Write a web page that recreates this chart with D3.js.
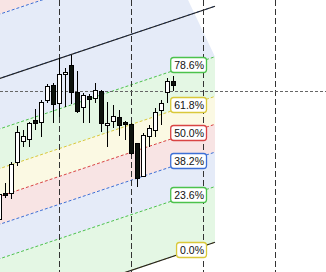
<!DOCTYPE html>
<html>
<head>
<meta charset="utf-8">
<style>
  body { margin: 0; background: #fff; }
  svg { display: block; }
  .label text { font: 10.5px "Liberation Sans", Arial, sans-serif; fill: #111; }
</style>
</head>
<body>
<svg id="chart" width="326" height="272"></svg>
<script src="https://cdn.jsdelivr.net/npm/d3@7"></script>
<script>
// candles, one per bar index
const opens  = [55.27, 57.93, 57.87, 60.93, 63.07, 63.27, 65.20, 64.97, 67.20, 68.67,
                66.87, 69.80, 70.70, 68.00, 66.47, 67.60, 67.37, 68.13, 64.63, 65.13,
                65.53, 65.00, 64.80, 62.87, 59.63, 63.53, 64.20, 66.13, 67.97, 69.07];
const highs  = [58.20, 58.93, 61.00, 64.60, 64.20, 65.03, 66.30, 67.20, 68.80, 68.90,
                71.37, 70.40, 71.70, 70.13, 67.90, 67.80, 68.87, 68.20, 67.03, 66.70,
                66.20, 65.10, 64.90, 62.90, 63.87, 64.70, 66.37, 67.20, 69.40, 69.63];
const lows   = [55.00, 57.37, 57.30, 60.60, 62.53, 62.53, 64.20, 63.53, 66.87, 64.93,
                65.53, 66.53, 66.80, 65.87, 64.87, 64.90, 66.87, 64.03, 62.53, 64.40,
                63.60, 63.20, 61.70, 58.47, 59.55, 62.53, 63.50, 64.70, 66.87, 68.13];
const closes = [57.77, 57.73, 60.80, 63.97, 63.60, 64.87, 64.93, 66.97, 68.60, 66.77,
                69.77, 70.00, 67.97, 66.13, 67.67, 67.27, 68.20, 64.93, 64.87, 65.60,
                64.77, 64.83, 61.90, 59.37, 63.70, 64.37, 66.03, 66.87, 69.07, 68.65];

// fibonacci channel
const channelStart = {i: 0, price: 45.73};
const channelEnd = {i: 36, price: 52.97};
const channelHeight = 23.61;
const channelLeft = -5;
const fibLevels = [0, 0.236, 0.382, 0.5, 0.618, 0.786, 1, 1.272, 1.618];
const fibLabels = ['0.0%', '23.6%', '38.2%', '50.0%', '61.8%', '78.6%', '', '', ''];
const fibColors = ['#d9c83a', '#4cc24c', '#3d6fd6', '#d94444', '#d9c83a', '#4cc24c', '#3d6fd6', '#3d6fd6', '#d94444'];
const fibFills  = ['#fbf9e3', '#e4f7e4', '#e5ebf8', '#f8e4e4', '#fbf9e3', '#e4f7e4', '#e5ebf8', '#e5ebf8', '#f8e4e4'];
const fillTopEnd = {i: 22.6, level: 1.618};

// grid
const gridIndex = [10, 22, 34, 46];
const gridPrice = [68.1];

const width = 326, height = 272;
const svg = d3.select('#chart');

const x = d3.scaleLinear().domain([0, 29]).range([-1, 173]);
const y = d3.scaleLinear().domain([50, 77.2]).range([height, 0]);

const crisp = v => Math.round(v) + 0.5;

function basePrice(i) {
  const s = (channelEnd.price - channelStart.price) / (channelEnd.i - channelStart.i);
  return channelStart.price + (i - channelStart.i) * s;
}
function levelPrice(i, level) {
  return basePrice(i) + level * channelHeight;
}
// right end of the filled area for a level
function fillRight(level) {
  const top = fibLevels[5];
  if (level <= top) return channelEnd.i;
  const t = (level - top) / (fillTopEnd.level - top);
  return channelEnd.i + t * (fillTopEnd.i - channelEnd.i);
}

// band fills
const bands = d3.range(fibLevels.length - 1).map(j => ({
  lo: fibLevels[j], hi: fibLevels[j + 1], fill: fibFills[j + 1]
}));

svg.append('g')
  .attr('class', 'bands')
  .selectAll('path')
  .data(bands)
  .join('path')
    .attr('fill', d => d.fill)
    .attr('d', d => {
      const rl = fillRight(d.lo), rh = fillRight(d.hi);
      return d3.line()([
        [x(channelLeft), y(levelPrice(channelLeft, d.lo))],
        [x(rl), y(levelPrice(rl, d.lo))],
        [x(rh), y(levelPrice(rh, d.hi))],
        [x(channelLeft), y(levelPrice(channelLeft, d.hi))]
      ]) + 'Z';
    });

// level lines
svg.append('g')
  .attr('class', 'levels')
  .selectAll('line')
  .data(fibLevels.map((l, j) => ({level: l, color: fibColors[j]})))
  .join('line')
    .attr('x1', x(channelLeft))
    .attr('y1', d => y(levelPrice(channelLeft, d.level)))
    .attr('x2', x(channelEnd.i))
    .attr('y2', d => y(levelPrice(channelEnd.i, d.level)))
    .attr('stroke', d => d.color)
    .attr('stroke-width', 1)
    .attr('stroke-dasharray', '3,2');

// channel border lines (0 and 100%)
svg.append('g')
  .attr('class', 'channel')
  .selectAll('line')
  .data([0, 1])
  .join('line')
    .attr('x1', x(channelLeft))
    .attr('y1', d => y(levelPrice(channelLeft, d)))
    .attr('x2', x(channelEnd.i))
    .attr('y2', d => y(levelPrice(channelEnd.i, d)))
    .attr('stroke', '#222')
    .attr('stroke-width', 1.2);

// grid
svg.append('g')
  .selectAll('line')
  .data(gridIndex)
  .join('line')
    .attr('x1', d => crisp(x(d))).attr('x2', d => crisp(x(d)))
    .attr('y1', 0).attr('y2', height)
    .attr('stroke', '#333')
    .attr('stroke-dasharray', '6,3');

svg.append('g')
  .selectAll('line')
  .data(gridPrice)
  .join('line')
    .attr('x1', 0).attr('x2', width)
    .attr('y1', d => crisp(y(d))).attr('y2', d => crisp(y(d)))
    .attr('stroke', '#666')
    .attr('stroke-dasharray', '3,2');

// candles
const candles = opens.map((o, i) => ({i, o, h: highs[i], l: lows[i], c: closes[i]}));

const candle = svg.append('g')
  .attr('class', 'candles')
  .selectAll('g')
  .data(candles)
  .join('g');

candle.append('line')
  .attr('x1', d => crisp(x(d.i))).attr('x2', d => crisp(x(d.i)))
  .attr('y1', d => Math.round(y(d.h)))
  .attr('y2', d => Math.round(y(d.l)))
  .attr('stroke', '#000');

candle.append('rect')
  .attr('x', d => Math.round(x(d.i)) - 1.5)
  .attr('width', 4)
  .attr('y', d => crisp(y(Math.max(d.o, d.c))))
  .attr('height', d => Math.max(1, Math.round(Math.abs(y(d.o) - y(d.c)))))
  .attr('fill', d => d.c >= d.o ? '#fff' : '#0d130d')
  .attr('stroke', '#000');

// level labels
const labels = fibLevels
  .map((l, j) => ({level: l, text: fibLabels[j], color: fibColors[j]}))
  .filter(d => d.text);

const label = svg.append('g')
  .selectAll('g')
  .data(labels)
  .join('g')
    .attr('class', 'label');

label.append('text')
  .attr('text-anchor', 'end')
  .attr('dy', '0.36em')
  .text(d => d.text);

label.each(function(d) {
  const g = d3.select(this);
  const tw = g.select('text').node().getComputedTextLength();
  const right = x(channelEnd.i) - 8;
  const cx = right - (tw + 6) / 2;
  const xi = (cx + 1) / 6;
  const cy = y(levelPrice(xi, d.level));
  g.attr('transform', `translate(${Math.round(right - 3)},${Math.round(cy)})`);
  g.insert('rect', 'text')
    .attr('x', -tw - 3.5)
    .attr('y', -7.5)
    .attr('width', tw + 6)
    .attr('height', 15)
    .attr('rx', 3)
    .attr('fill', '#fff')
    .attr('stroke', d.color)
    .attr('stroke-width', 1.3);
});
</script>
</body>
</html>
